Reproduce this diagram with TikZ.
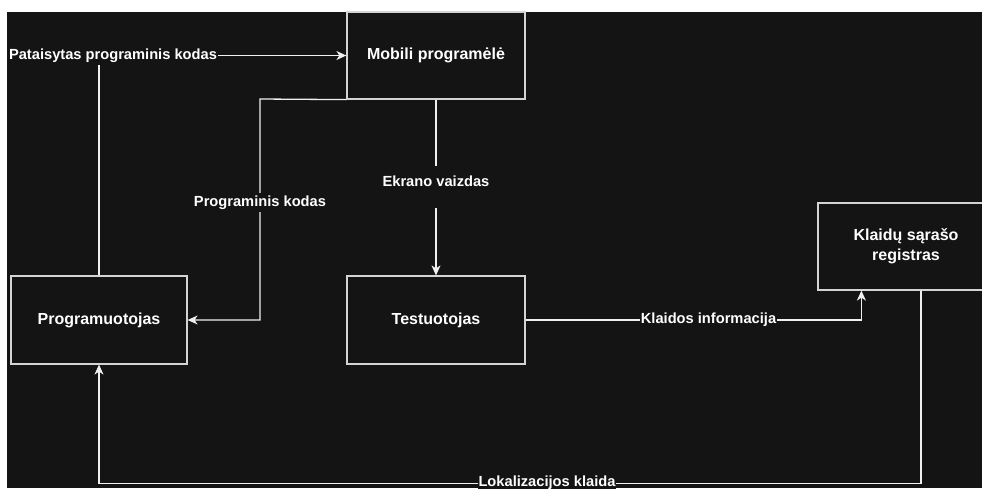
\documentclass[tikz,border=0pt]{standalone}
\usepackage{fontspec}
\setmainfont{Liberation Sans}
\usetikzlibrary{arrows.meta}
\definecolor{canvas}{HTML}{141414}
\definecolor{edgecol}{HTML}{F0F0F0}
\definecolor{boxline}{HTML}{D4D4D4}
\tikzset{
  box/.style={draw=boxline, line width=1.2pt, fill=canvas, minimum width=178pt,
    minimum height=88pt, inner sep=0pt, text=white, align=center,
    font=\fontsize{16}{20}\selectfont\bfseries},
  flow/.style={draw=edgecol, line width=1.3pt,
    -{Stealth[length=10pt,width=9pt,inset=3pt]}},
  elabel/.style={fill=canvas, text=white, inner xsep=1pt, inner ysep=3pt,
    font=\fontsize{14.67}{17}\selectfont\bfseries}
}
\begin{document}
\begin{tikzpicture}[x=1pt,y=-1pt]
  \useasboundingbox (0,0) rectangle (982,488);
  \clip (0,0) rectangle (982,488);
  \fill[white] (0,0) rectangle (982,488);
  \fill[canvas] (7,12) rectangle (982,488);

  % actors and artefacts
  \node[box, minimum height=87pt] (mob) at (436,55.5) {Mobili programėlė};
  \node[box, minimum width=176pt] (prog) at (99,320) {Programuotojas};
  \node[box] (test) at (436,320) {Testuotojas};
  \node[box, minimum width=176pt, minimum height=87pt] (kl) at (906,246.5) {Klaidų sąrašo\\registras};

  % flows
  \coordinate (bend) at (260,99);
  \draw[flow] (prog.north) |- (mob.west);
  \draw[flow] (mob.south west) -- (bend) |- (prog.east);
  \draw[flow] (mob.south) -- (test.north);
  \draw[flow] (test.east) -| ([xshift=44pt]kl.south west);
  \draw[flow] ([xshift=15pt]kl.south) -- ++(0,193) -| (prog.south);

  % flow labels
  \node[elabel] (l1) at (113,55.5) {Pataisytas programinis kodas};
  \node[elabel] (l2) at (260,202.5) {Programinis kodas};
  \node[fill=canvas, minimum width=20pt, minimum height=42pt, inner sep=0pt] (l3gap) at (436,187) {};
  \node[elabel, fill=none] (l3) at (436,181) {Ekrano vaizdas};
  \node[elabel] (l4) at (708.5,320) {Klaidos informacija};
  \node[elabel] (l5) at (547,483) {Lokalizacijos klaida};
\end{tikzpicture}
\end{document}
